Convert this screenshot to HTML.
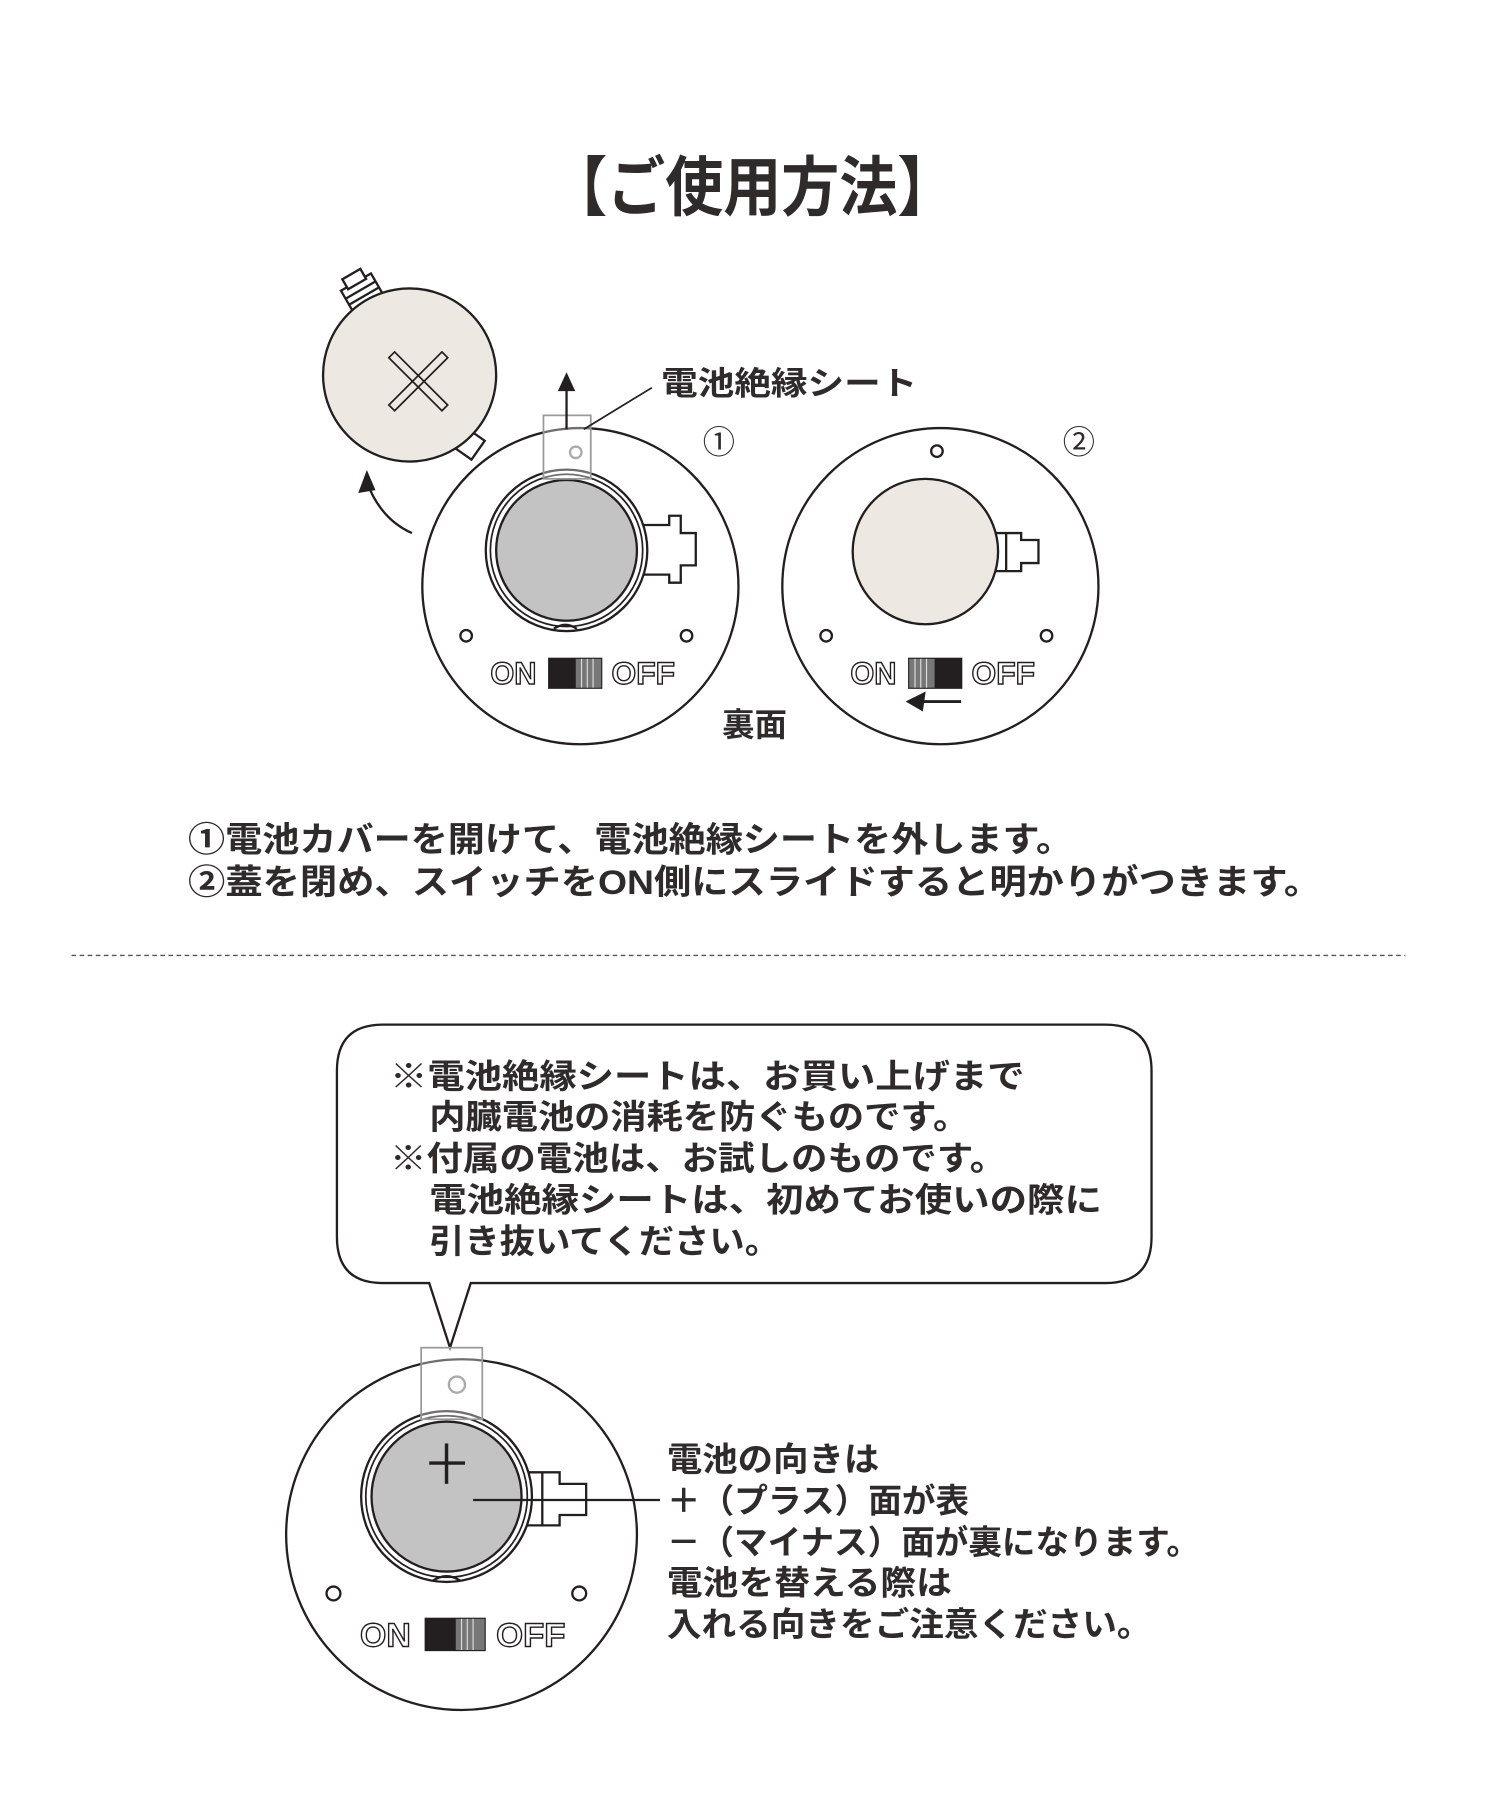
<!DOCTYPE html>
<html><head><meta charset="utf-8"><style>
html,body{margin:0;padding:0;background:#fff;}
svg{display:block;}
text{font-family:"Liberation Sans","Noto Sans CJK JP",sans-serif;fill:#2f2b2b;font-weight:bold;}
</style></head><body>
<svg width="1500" height="1800" viewBox="0 0 1300 1560" xmlns="http://www.w3.org/2000/svg">
<rect width="1300" height="1560" fill="#fff"/>
<text x="476" y="182" font-size="56" textLength="352" lengthAdjust="spacingAndGlyphs">【ご使用方法】</text>

<g stroke="#231f20" stroke-width="2" fill="none">
<!-- cover -->
<g transform="rotate(-30 355 325)">
<rect x="340" y="232" width="30" height="22" fill="#fff"/>
<rect x="346" y="224" width="18" height="10" fill="#fff"/>
<line x1="340" y1="240" x2="370" y2="240"/><line x1="340" y1="246" x2="370" y2="246"/>
</g>
<rect x="398" y="375" width="18" height="20" fill="#fff" transform="rotate(35 407 385)"/>
<circle cx="355" cy="325" r="75" fill="#ede9e2"/>
<path d="M337 310 L342 305 L388 351 L383 356 Z M383 305 L388 310 L342 356 L337 351 Z" fill="#ede9e2" stroke-width="1.5"/>
<path d="M357 462 Q330 450 318 418"/>
<polygon points="318,410 312,426 324,424" fill="#231f20"/>

<!-- circle 1 -->
<circle cx="503" cy="508" r="137" fill="#fff"/>
<path d="M555 455 L580 455 L580 447 L590 447 L590 462 L603 462 L603 490 L590 490 L590 505 L580 505 L580 498 L548 498" fill="#fff"/>
<circle cx="491" cy="477" r="70" fill="#fff"/>
<circle cx="491" cy="477" r="66" fill="#fff" stroke-width="1.5"/>
<circle cx="491" cy="477" r="61" fill="#c3c3c3"/>
<path d="M480 545 Q490 538 500 545"/>
<circle cx="404" cy="551" r="5"/><circle cx="595" cy="551" r="5"/>
<rect x="471" y="360" width="41" height="55" stroke="#999" stroke-width="1.5" fill="rgba(255,255,255,0.35)"/>
<circle cx="499" cy="392" r="5" stroke="#aaa"/>
<line x1="491" y1="372" x2="491" y2="335"/>
<polygon points="491,325 485,338 497,338" fill="#231f20"/>
<line x1="506" y1="372" x2="565" y2="336" stroke-width="1.5"/>
<rect x="476" y="571" width="45" height="25" fill="#231f20"/>
<rect x="499" y="571" width="22" height="25" fill="#777" stroke="none"/>
<line x1="504" y1="571" x2="504" y2="596" stroke="#ddd" stroke-width="1"/><line x1="509" y1="571" x2="509" y2="596" stroke="#ddd" stroke-width="1"/><line x1="514" y1="571" x2="514" y2="596" stroke="#ddd" stroke-width="1"/>

<!-- circle 2 -->
<circle cx="815" cy="508" r="137" fill="#fff"/>
<path d="M860 462 L872 462 L885 462 L885 468 L900 468 L900 488 L885 488 L885 495 L860 495" fill="#fff"/>
<line x1="872" y1="462" x2="872" y2="495"/>
<circle cx="802" cy="478" r="63" fill="#ede9e2"/>
<circle cx="716" cy="551" r="5"/><circle cx="907" cy="551" r="5"/><circle cx="812" cy="391" r="5"/>
<rect x="788" y="571" width="45" height="25" fill="#231f20"/>
<rect x="788" y="571" width="22" height="25" fill="#777" stroke="none"/>
<line x1="793" y1="571" x2="793" y2="596" stroke="#ddd" stroke-width="1"/><line x1="798" y1="571" x2="798" y2="596" stroke="#ddd" stroke-width="1"/><line x1="803" y1="571" x2="803" y2="596" stroke="#ddd" stroke-width="1"/>
<line x1="833" y1="608" x2="798" y2="608" stroke-width="2.5"/>
<polygon points="787,608 801,601 799,615" fill="#231f20"/>
</g>
<text x="573" y="342" font-size="28" textLength="222" lengthAdjust="spacingAndGlyphs">電池絶縁シート</text>
<text x="609" y="393" font-size="28" style="font-weight:normal">①</text>
<text x="921" y="393" font-size="28" style="font-weight:normal">②</text>
<text x="425" y="593" font-size="27" textLength="40" lengthAdjust="spacingAndGlyphs" style="fill:#fff;stroke:#231f20;stroke-width:1.2">ON</text>
<text x="530" y="593" font-size="27" textLength="55" lengthAdjust="spacingAndGlyphs" style="fill:#fff;stroke:#231f20;stroke-width:1.2">OFF</text>
<text x="737" y="593" font-size="27" textLength="40" lengthAdjust="spacingAndGlyphs" style="fill:#fff;stroke:#231f20;stroke-width:1.2">ON</text>
<text x="842" y="593" font-size="27" textLength="55" lengthAdjust="spacingAndGlyphs" style="fill:#fff;stroke:#231f20;stroke-width:1.2">OFF</text>
<text x="626" y="638" font-size="28">裏面</text>

<text x="163" y="738" font-size="30" textLength="767" lengthAdjust="spacingAndGlyphs">①電池カバーを開けて、電池絶縁シートを外します。</text>
<text x="163" y="775" font-size="30" textLength="982" lengthAdjust="spacingAndGlyphs">②蓋を閉め、スイッチをON側にスライドすると明かりがつきます。</text>

<line x1="62" y1="828" x2="1218" y2="828" stroke="#555" stroke-width="1.2" stroke-dasharray="4 3"/>

<path d="M332 888 L958 888 Q998 888 998 928 L998 1072 Q998 1112 958 1112 L408 1112 L390 1168 L372 1112 L332 1112 Q292 1112 292 1072 L292 928 Q292 888 332 888 Z" fill="#fff" stroke="#231f20" stroke-width="2"/>
<text x="338" y="943" font-size="29" textLength="550" lengthAdjust="spacingAndGlyphs">※電池絶縁シートは、お買い上げまで</text>
<text x="372" y="978" font-size="29" textLength="468" lengthAdjust="spacingAndGlyphs">内臓電池の消耗を防ぐものです。</text>
<text x="338" y="1014" font-size="29" textLength="534" lengthAdjust="spacingAndGlyphs">※付属の電池は、お試しのものです。</text>
<text x="372" y="1050" font-size="29" textLength="583" lengthAdjust="spacingAndGlyphs">電池絶縁シートは、初めてお使いの際に</text>
<text x="372" y="1086" font-size="29" textLength="304" lengthAdjust="spacingAndGlyphs">引き抜いてください。</text>

<g stroke="#231f20" stroke-width="2" fill="none">
<circle cx="400" cy="1330" r="152" fill="#fff"/>
<path d="M455 1276 L470 1276 L485 1276 L485 1286 L508 1286 L508 1313 L485 1313 L485 1322 L455 1322" fill="#fff"/>
<line x1="470" y1="1276" x2="470" y2="1322"/>
<circle cx="387" cy="1297" r="74" fill="#fff"/>
<circle cx="387" cy="1297" r="70" fill="#fff" stroke-width="1.5"/>
<circle cx="387" cy="1297" r="65" fill="#c3c3c3"/>
<path d="M375 1370 Q387 1362 399 1370"/>
<line x1="372" y1="1268" x2="403" y2="1268" stroke-width="3"/>
<line x1="387" y1="1251" x2="387" y2="1286" stroke-width="3"/>
<circle cx="289" cy="1381" r="6"/><circle cx="502" cy="1381" r="6"/>
<rect x="365" y="1168" width="53" height="62" stroke="#999" stroke-width="1.5" fill="rgba(255,255,255,0.35)"/>
<circle cx="396" cy="1200" r="7" stroke="#aaa"/>
<line x1="410" y1="1300" x2="572" y2="1300"/>
<rect x="369" y="1403" width="51" height="27" fill="#231f20"/>
<rect x="395" y="1403" width="25" height="27" fill="#777" stroke="none"/>
<line x1="400" y1="1403" x2="400" y2="1430" stroke="#ddd" stroke-width="1"/><line x1="405" y1="1403" x2="405" y2="1430" stroke="#ddd" stroke-width="1"/><line x1="410" y1="1403" x2="410" y2="1430" stroke="#ddd" stroke-width="1"/>
</g>
<text x="312" y="1427" font-size="29" textLength="44" lengthAdjust="spacingAndGlyphs" style="fill:#fff;stroke:#231f20;stroke-width:1.2">ON</text>
<text x="430" y="1427" font-size="29" textLength="60" lengthAdjust="spacingAndGlyphs" style="fill:#fff;stroke:#231f20;stroke-width:1.2">OFF</text>

<text x="578" y="1275" font-size="29" textLength="184" lengthAdjust="spacingAndGlyphs">電池の向きは</text>
<text x="578" y="1311" font-size="29" textLength="262" lengthAdjust="spacingAndGlyphs">＋（プラス）面が表</text>
<text x="578" y="1347" font-size="29" textLength="462" lengthAdjust="spacingAndGlyphs">－（マイナス）面が裏になります。</text>
<text x="578" y="1382" font-size="29" textLength="247" lengthAdjust="spacingAndGlyphs">電池を替える際は</text>
<text x="578" y="1418" font-size="29" textLength="420" lengthAdjust="spacingAndGlyphs">入れる向きをご注意ください。</text>
</svg>
</body></html>
